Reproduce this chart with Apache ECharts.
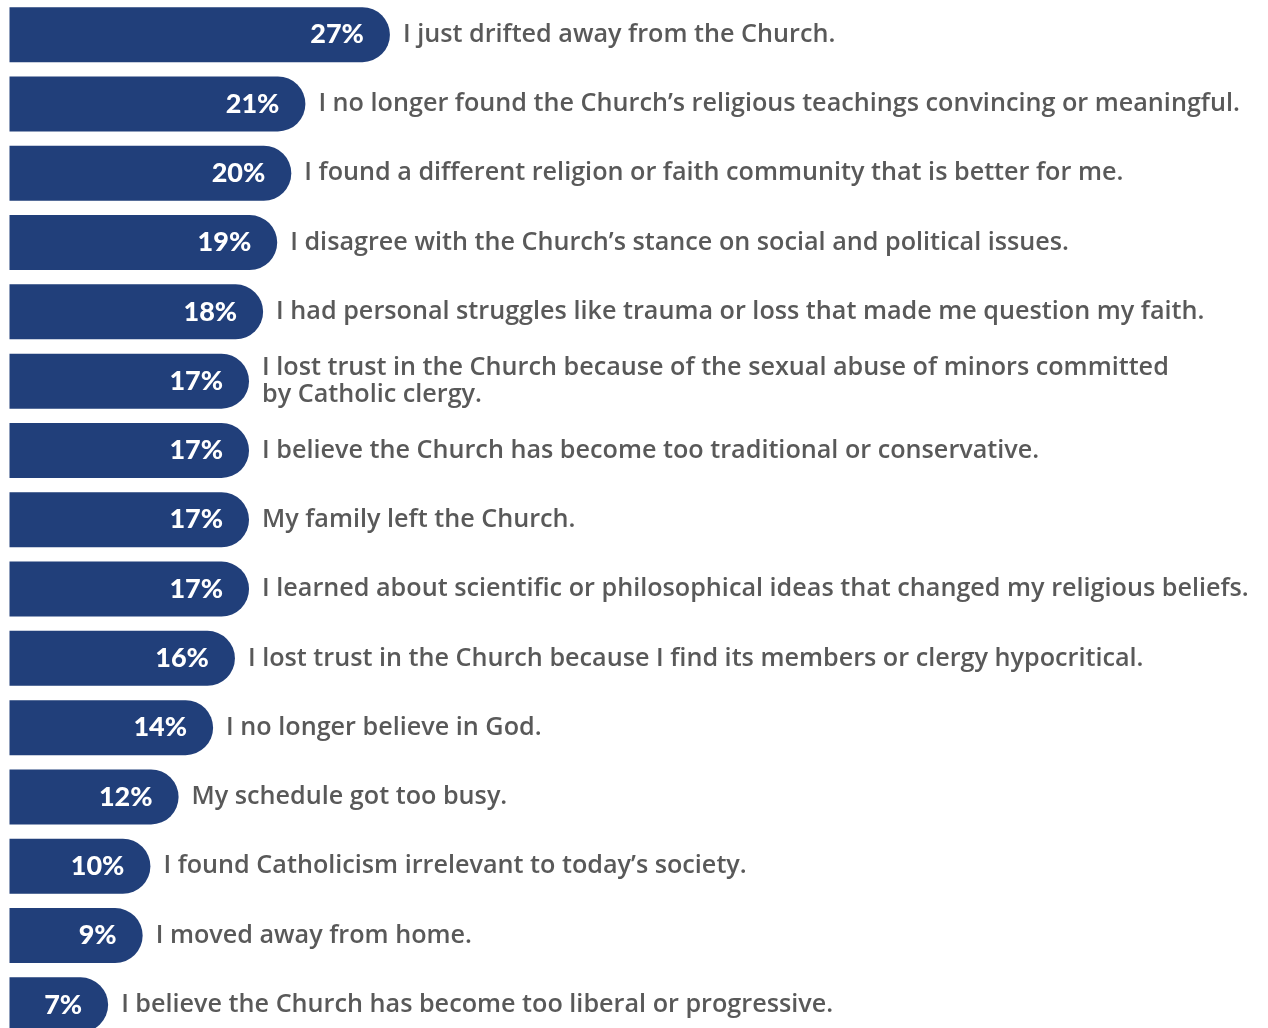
<!DOCTYPE html>
<html>
<head>
<meta charset="utf-8">
<script src="https://cdn.jsdelivr.net/npm/echarts@6/dist/echarts.min.js"></script>
<style>
html,body{margin:0;padding:0;background:#fff;}
#chart{width:1268px;height:1028px;}
</style>
</head>
<body>
<div id="chart"></div>
<script>
const categories = [
  "I just drifted away from the Church.",
  "I no longer found the Church\u2019s religious teachings convincing or meaningful.",
  "I found a different religion or faith community that is better for me.",
  "I disagree with the Church\u2019s stance on social and political issues.",
  "I had personal struggles like trauma or loss that made me question my faith.",
  "I lost trust in the Church because of the sexual abuse of minors committed\nby Catholic clergy.",
  "I believe the Church has become too traditional or conservative.",
  "My family left the Church.",
  "I learned about scientific or philosophical ideas that changed my religious beliefs.",
  "I lost trust in the Church because I find its members or clergy hypocritical.",
  "I no longer believe in God.",
  "My schedule got too busy.",
  "I found Catholicism irrelevant to today\u2019s society.",
  "I moved away from home.",
  "I believe the Church has become too liberal or progressive."
];
// bar lengths (percent)
const values = [27, 21, 20, 19, 18, 17, 17, 17, 17, 16, 14.45, 12, 10, 9.45, 7];
// printed labels
const valueLabels = ["27%", "21%", "20%", "19%", "18%", "17%", "17%", "17%", "17%", "16%", "14%", "12%", "10%", "9%", "7%"];

const chart = echarts.init(document.getElementById('chart'), null, {renderer: 'canvas'});
const pxPerUnit = 14.09;
const xMax = 80;
chart.setOption({
  animation: false,
  grid: {left: 9.5, top: 0, width: pxPerUnit * xMax, height: 1039.5, containLabel: false, outerBoundsMode: 'none'},
  xAxis: {type: 'value', min: 0, max: xMax, show: false},
  yAxis: {type: 'category', data: categories, inverse: true, show: false},
  series: [
    {
      type: 'bar',
      data: values,
      barWidth: 55,
      itemStyle: {color: '#213f7a', borderRadius: [0, 27.5, 27.5, 0]},
      label: {
        show: true,
        position: 'insideRight',
        distance: 26,
        color: '#ffffff',
        fontFamily: 'Lato',
        fontWeight: 900,
        fontSize: 27,
        formatter: p => valueLabels[p.dataIndex]
      },
      z: 2
    },
    {
      type: 'bar',
      data: values,
      barWidth: 55,
      barGap: '-100%',
      itemStyle: {color: 'rgba(0,0,0,0)'},
      label: {
        show: true,
        position: 'right',
        distance: 13,
        color: '#595959',
        fontFamily: 'Open Sans',
        fontWeight: 600,
        fontSize: 25.2,
        lineHeight: 27,
        formatter: p => categories[p.dataIndex]
      },
      silent: true,
      z: 1
    }
  ]
});
</script>
</body>
</html>
